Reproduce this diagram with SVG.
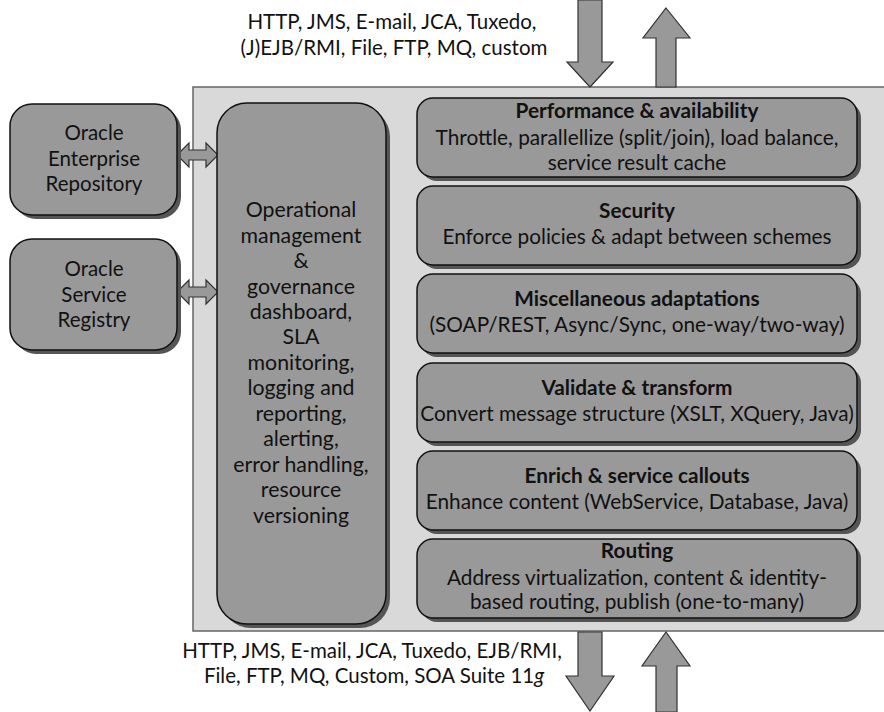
<svg xmlns="http://www.w3.org/2000/svg" width="884" height="712" viewBox="0 0 884 712">
<style>
.panel{fill:#d9d9d9;stroke:#666;stroke-width:1.5}
.box{fill:#999;stroke:#111;stroke-width:1.5}
.sh{fill:#555}
.arr{fill:#999;stroke:#333;stroke-width:1.2}
text{font-family:Lato,"Open Sans",sans-serif;font-size:20.8px;fill:#111;text-anchor:middle}
.b{font-weight:bold}
.lbl{font-size:20.5px}
.ops text{font-size:21.3px}
.side text{font-size:20.5px}
</style>
<rect x="0" y="0" width="884" height="712" fill="#fff"/>
<g id="panel"><rect class="panel" x="193" y="87" width="700" height="544"/></g>

<g id="connectors">
  <polygon class="arr" points="578,0 602,0 602,62 613,62 590,87 567,62 578,62"/>
  <polygon class="arr" points="666,8 690,38 676,38 676,87 656,87 656,38 643,38"/>
  <polygon class="arr" points="578,632 602,632 602,676 614,676 590,711 566,676 578,676"/>
  <polygon class="arr" points="666,632 690,666 677,666 677,712 656,712 656,666 642,666"/>
  <polygon class="arr" points="177,155 189,143 189,150 206,150 206,143 218,155 206,167 206,160 189,160 189,167"/>
  <polygon class="arr" points="177,292 189,280 189,287 206,287 206,280 218,292 206,304 206,297 189,297 189,304"/>
</g>

<g id="top-label">
  <text class="lbl" x="392" y="29">HTTP, JMS, E-mail, JCA, Tuxedo,</text>
  <text class="lbl" x="394" y="55">(J)EJB/RMI, File, FTP, MQ, custom</text>
</g>
<g id="bottom-label">
  <text class="lbl" x="372" y="658">HTTP, JMS, E-mail, JCA, Tuxedo, EJB/RMI,</text>
  <text class="lbl" x="374" y="683">File, FTP, MQ, Custom, SOA Suite 11<tspan font-style="italic">g</tspan></text>
</g>

<g id="oer" class="side">
  <rect class="sh" x="14" y="108" width="167" height="111" rx="22"/>
  <rect class="box" x="10" y="104" width="167" height="111" rx="22"/>
  <text x="94" y="140">Oracle</text>
  <text x="94" y="166">Enterprise</text>
  <text x="94" y="191">Repository</text>
</g>
<g id="osr" class="side">
  <rect class="sh" x="14" y="243" width="167" height="111" rx="22"/>
  <rect class="box" x="10" y="239" width="167" height="111" rx="22"/>
  <text x="94" y="276">Oracle</text>
  <text x="94" y="302">Service</text>
  <text x="94" y="327">Registry</text>
</g>

<g id="ops" class="ops">
  <rect class="sh" x="221" y="107" width="169" height="521" rx="30"/>
  <rect class="box" x="217" y="103" width="169" height="521" rx="30"/>
  <text x="301" y="217">Operational</text>
  <text x="301" y="243">management</text>
  <text x="301" y="268">&amp;</text>
  <text x="301" y="294">governance</text>
  <text x="301" y="319">dashboard,</text>
  <text x="301" y="344">SLA</text>
  <text x="301" y="370">monitoring,</text>
  <text x="301" y="395">logging and</text>
  <text x="301" y="421">reporting,</text>
  <text x="301" y="446">alerting,</text>
  <text x="301" y="472">error handling,</text>
  <text x="301" y="497">resource</text>
  <text x="301" y="523">versioning</text>
</g>

<g id="perf">
  <rect class="sh" x="421" y="102" width="440" height="79" rx="16"/>
  <rect class="box" x="417" y="98" width="440" height="79" rx="16"/>
  <text class="b" x="637" y="118">Performance &amp; availability</text>
  <text x="637" y="145">Throttle, parallellize (split/join), load balance,</text>
  <text x="637" y="170">service result cache</text>
</g>
<g id="security">
  <rect class="sh" x="421" y="190" width="440" height="79" rx="16"/>
  <rect class="box" x="417" y="186" width="440" height="79" rx="16"/>
  <text class="b" x="637" y="218">Security</text>
  <text x="637" y="244">Enforce policies &amp; adapt between schemes</text>
</g>
<g id="misc">
  <rect class="sh" x="421" y="278" width="440" height="79" rx="16"/>
  <rect class="box" x="417" y="274" width="440" height="79" rx="16"/>
  <text class="b" x="637" y="306">Miscellaneous adaptations</text>
  <text x="637" y="332">(SOAP/REST, Async/Sync, one-way/two-way)</text>
</g>
<g id="validate">
  <rect class="sh" x="421" y="367" width="440" height="79" rx="16"/>
  <rect class="box" x="417" y="363" width="440" height="79" rx="16"/>
  <text class="b" x="637" y="395">Validate &amp; transform</text>
  <text x="637" y="421">Convert message structure (XSLT, XQuery, Java)</text>
</g>
<g id="enrich">
  <rect class="sh" x="421" y="455" width="440" height="79" rx="16"/>
  <rect class="box" x="417" y="451" width="440" height="79" rx="16"/>
  <text class="b" x="637" y="483">Enrich &amp; service callouts</text>
  <text x="637" y="509">Enhance content (WebService, Database, Java)</text>
</g>
<g id="routing">
  <rect class="sh" x="421" y="543" width="440" height="79" rx="16"/>
  <rect class="box" x="417" y="539" width="440" height="79" rx="16"/>
  <text class="b" x="637" y="558">Routing</text>
  <text x="637" y="585">Address virtualization, content &amp; identity-</text>
  <text x="637" y="609">based routing, publish (one-to-many)</text>
</g>
</svg>
